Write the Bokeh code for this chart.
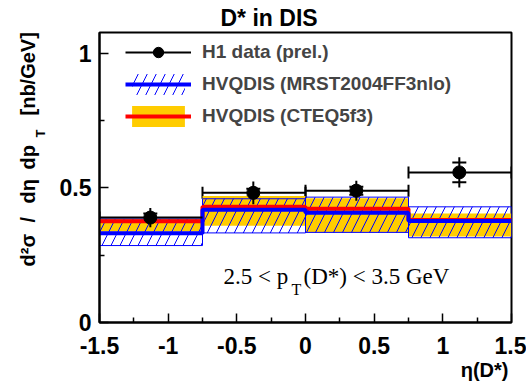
import math
from bokeh.plotting import figure
from bokeh.layouts import row
from bokeh.models import (ColumnDataSource, Range1d, FixedTicker, CustomJSTickFormatter,
                          Whisker, TeeHead, Label, Legend, LegendItem, Title)
from bokeh.embed import file_html
from bokeh.resources import INLINE

# ---------------- data ----------------
eta_lo = [-1.5, -0.75, 0.0, 0.75]
eta_hi = [-0.75, 0.0, 0.75, 1.5]
eta_mean = [-1.13, -0.38, 0.37, 1.12]

h1_val = [0.39, 0.482, 0.49, 0.558]
h1_tot_err = [0.036, 0.042, 0.037, 0.056]
h1_stat_err = [0.015, 0.015, 0.015, 0.037]

mrst_val = [0.332, 0.419, 0.408, 0.377]
mrst_lo = [0.286, 0.333, 0.335, 0.315]
mrst_hi = [0.385, 0.46, 0.466, 0.43]

cteq_val = [0.376, 0.43, 0.423, 0.381]
cteq_lo = [0.338, 0.36, 0.335, 0.32]
cteq_hi = [0.386, 0.47, 0.462, 0.405]

x_ticks = [-1.5, -1.0, -0.5, 0.0, 0.5, 1.0, 1.5]
x_minor = [-1.25, -0.75, -0.25, 0.25, 0.75, 1.25]
y_ticks = [0.0, 0.5, 1.0]
y_minor = [0.25, 0.75]

# ---------------- sources ----------------
data_src = ColumnDataSource(dict(
    x=eta_mean, y=h1_val, xlo=eta_lo, xhi=eta_hi,
    ylo=[v - e for v, e in zip(h1_val, h1_tot_err)],
    yhi=[v + e for v, e in zip(h1_val, h1_tot_err)],
    slo=[v - e for v, e in zip(h1_val, h1_stat_err)],
    shi=[v + e for v, e in zip(h1_val, h1_stat_err)],
))
mrst_src = ColumnDataSource(dict(left=eta_lo, right=eta_hi, bottom=mrst_lo, top=mrst_hi))
cteq_src = ColumnDataSource(dict(left=eta_lo, right=eta_hi, bottom=cteq_lo, top=cteq_hi))
edges = eta_lo + [eta_hi[-1]]
mrst_step = ColumnDataSource(dict(x=edges, y=mrst_val + [mrst_val[-1]]))
cteq_step = ColumnDataSource(dict(x=edges, y=cteq_val + [cteq_val[-1]]))

YELLOW = "#FFCC00"
BLUE = "#0000FF"
RED = "#FF0000"

# ---------------- main figure ----------------
p = figure(width=478, height=381, output_backend="svg", toolbar_location=None,
           x_range=Range1d(-1.5, 1.5), y_range=Range1d(0, 1.078),
           min_border_left=51, min_border_right=15, min_border_top=32, min_border_bottom=59)
p.background_fill_color = "white"
p.border_fill_color = "white"
p.grid.visible = False
p.outline_line_color = "black"
p.outline_line_width = 2

p.title.text = "D* in DIS"
p.title.align = "left"
p.title.offset = 121
p.title.standoff = 4
p.title.text_font = "Liberation Sans"
p.title.text_font_style = "bold"
p.title.text_font_size = "23px"
p.title.text_color = "black"

r_cteq_band = p.quad(left="left", right="right", bottom="bottom", top="top", source=cteq_src,
                     fill_color=YELLOW, line_alpha=0)
r_mrst_band = p.quad(left="left", right="right", bottom="bottom", top="top", source=mrst_src,
                     fill_alpha=0, line_alpha=0, hatch_pattern="/", hatch_color=BLUE,
                     hatch_scale=18, hatch_weight=1)
p.quad(left="left", right="right", bottom="bottom", top="top", source=mrst_src,
       fill_alpha=0, line_color=BLUE, line_width=1)
r_cteq_line = p.step(x="x", y="y", source=cteq_step, mode="after", line_color=RED, line_width=4)
r_mrst_line = p.step(x="x", y="y", source=mrst_step, mode="after", line_color=BLUE, line_width=4)

# data
r_hbar = p.segment(x0="xlo", x1="xhi", y0="y", y1="y", source=data_src, line_color="black", line_width=2)
p.add_layout(Whisker(base="y", lower="xlo", upper="xhi", dimension="width", source=data_src,
                     line_alpha=0,
                     lower_head=TeeHead(size=12, line_width=2, line_color="black"),
                     upper_head=TeeHead(size=12, line_width=2, line_color="black")))
p.segment(x0="x", x1="x", y0="ylo", y1="yhi", source=data_src, line_color="black", line_width=2)
p.add_layout(Whisker(base="x", lower="slo", upper="shi", dimension="height", source=data_src,
                     line_alpha=0,
                     lower_head=TeeHead(size=14, line_width=2, line_color="black"),
                     upper_head=TeeHead(size=14, line_width=2, line_color="black")))
r_pts = p.scatter(x="x", y="y", source=data_src, size=13, marker="circle",
                  fill_color="black", line_color="black")

# ---------------- axes ----------------
fmt = CustomJSTickFormatter(code="return tick.toString();")
for ax, tk, mn in ((p.xaxis[0], x_ticks, x_minor), (p.yaxis[0], y_ticks, y_minor)):
    ax.ticker = FixedTicker(ticks=tk, minor_ticks=mn)
    ax.formatter = fmt
    ax.axis_line_width = 2
    ax.major_tick_in = 9
    ax.major_tick_out = 0
    ax.minor_tick_in = 5
    ax.minor_tick_out = 0
    ax.major_tick_line_width = 1.5
    ax.minor_tick_line_width = 1.5
    ax.major_label_text_font = "Liberation Sans"
    ax.major_label_text_font_style = "bold"
    ax.major_label_text_font_size = "23px"
    ax.major_label_text_color = "black"
p.xaxis.major_label_standoff = 14
p.yaxis.major_label_standoff = 8

# x axis title, below the tick labels at the right
p.add_layout(Title(text="η(D*)", align="right", offset=3, standoff=0,
                   text_font="Liberation Sans", text_font_style="bold",
                   text_font_size="20px", text_color="black"), "below")

# ---------------- legend ----------------
legend = Legend(items=[
    LegendItem(label="H1 data (prel.)", renderers=[r_hbar, r_pts]),
    LegendItem(label="HVQDIS (MRST2004FF3nlo)", renderers=[r_mrst_band, r_mrst_line]),
    LegendItem(label="HVQDIS (CTEQ5f3)", renderers=[r_cteq_band, r_cteq_line]),
], location=(26, 193))
legend.padding = 0
legend.margin = 0
legend.spacing = 6
legend.glyph_width = 66
legend.glyph_height = 26
legend.label_standoff = 11
legend.label_text_font = "Liberation Sans"
legend.label_text_font_style = "bold"
legend.label_text_font_size = "19px"
legend.border_line_alpha = 0
legend.background_fill_alpha = 0
p.add_layout(legend)


def lab(fig, text, x, y, size, font="Liberation Sans", style="bold", angle=0.0,
        align="left", baseline="alphabetic"):
    fig.add_layout(Label(x=x, y=y, x_units="screen", y_units="screen", text=text,
                         text_font=font, text_font_style=style, text_font_size=size,
                         text_align=align, text_baseline=baseline, angle=angle,
                         text_color="black"))


# text inside the frame
lab(p, "2.5 < p", 124, 46, "23px", font="Liberation Serif", style="normal")
lab(p, "T", 192, 33, "16px", font="Liberation Serif", style="normal")
lab(p, "(D*) < 3.5 GeV", 204, 46, "23px", font="Liberation Serif", style="normal")

# ---------------- left strip: y axis title ----------------
left = figure(width=48, height=381, output_backend="svg", toolbar_location=None,
              x_range=Range1d(0, 1), y_range=Range1d(0, 1),
              x_axis_location=None, y_axis_location=None,
              min_border=0, min_border_left=0, min_border_right=0,
              min_border_top=0, min_border_bottom=0)
left.grid.visible = False
left.outline_line_color = None
left.background_fill_color = "white"
left.border_fill_color = "white"

rot = math.pi / 2
lab(left, "d²σ", 27, 56, "20px", angle=rot, baseline="middle")
lab(left, "/", 27, 100, "20px", angle=rot, baseline="middle")
lab(left, "dη", 27, 119, "20px", angle=rot, baseline="middle")
lab(left, "dp", 27, 153, "20px", angle=rot, baseline="middle")
lab(left, "T", 40, 185, "13px", angle=rot, baseline="middle")
lab(left, "[nb/GeV]", 27, 207, "20px", angle=rot, baseline="middle")

layout = row(left, p, spacing=0)

open("out.html", "w").write(file_html(layout, INLINE))
